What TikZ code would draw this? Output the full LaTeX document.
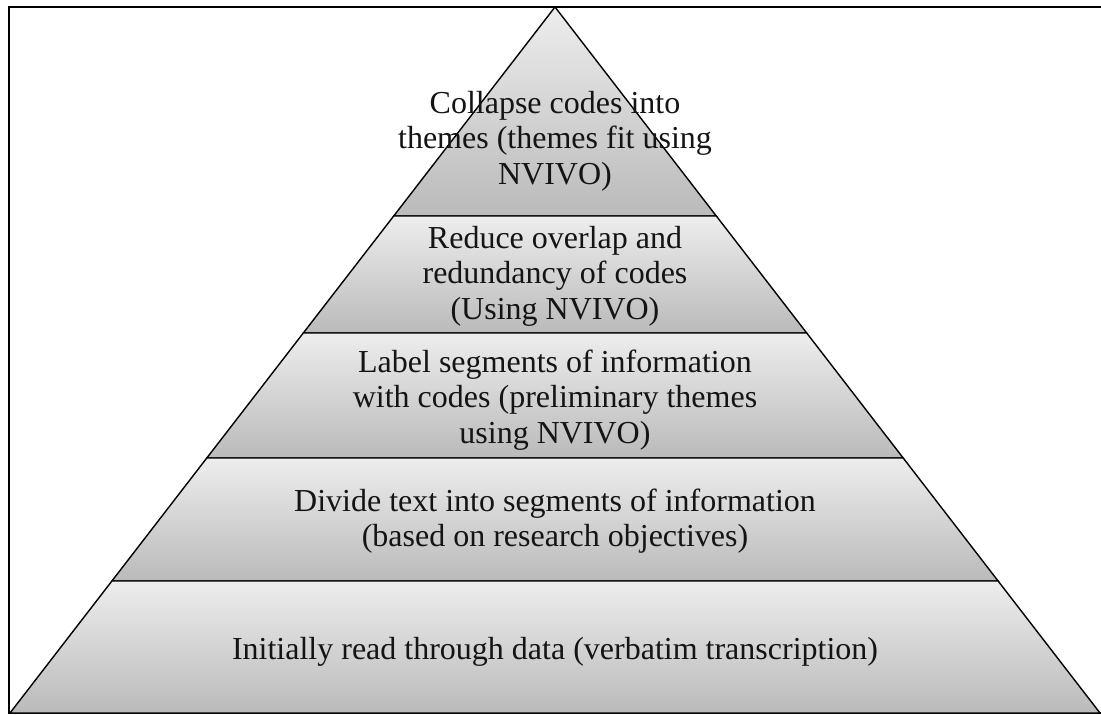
\documentclass[tikz,border=0pt]{standalone}
\usepackage{fontspec}
\setmainfont{Liberation Serif}
\begin{document}
\begin{tikzpicture}[x=1pt,y=-1pt,
  layer/.style={draw=black,line width=1.4pt,line join=miter,top color=black!7,bottom color=black!27,shading angle=0},
  lbl/.style={align=center,font=\fontsize{32}{35.5}\selectfont,text=black!92,inner sep=0pt},
  frameline/.style={draw=black,line width=1.5pt}]
\useasboundingbox (0,0) rectangle (1101,715);
% frame
\draw[frameline] (1101,7) -- (9,7) -- (9,713) -- (1101,713);
% pyramid layers
\path[layer] (555,7) -- (716.3,216) -- (393.7,216) -- cycle;
\path[layer] (393.7,216) -- (716.3,216) -- (806.7,333) -- (303.3,333) -- cycle;
\path[layer] (303.3,333) -- (806.7,333) -- (903.2,458) -- (206.8,458) -- cycle;
\path[layer] (206.8,458) -- (903.2,458) -- (998.1,581) -- (111.9,581) -- cycle;
\path[layer] (111.9,581) -- (998.1,581) -- (1100,713) -- (10,713) -- cycle;
% labels
\node[lbl] (l1) at (555,141) {Collapse codes into\\themes (themes fit using\\NVIVO)};
\node[lbl] (l2) at (555,276) {Reduce overlap and\\redundancy of codes\\(Using NVIVO)};
\node[lbl] (l3) at (555,400) {Label segments of information\\with codes (preliminary themes\\using NVIVO)};
\node[lbl] (l4) at (555,521) {Divide text into segments of information\\(based on research objectives)};
\node[lbl] (l5) at (555,652) {Initially read through data (verbatim transcription)};
\end{tikzpicture}
\end{document}
